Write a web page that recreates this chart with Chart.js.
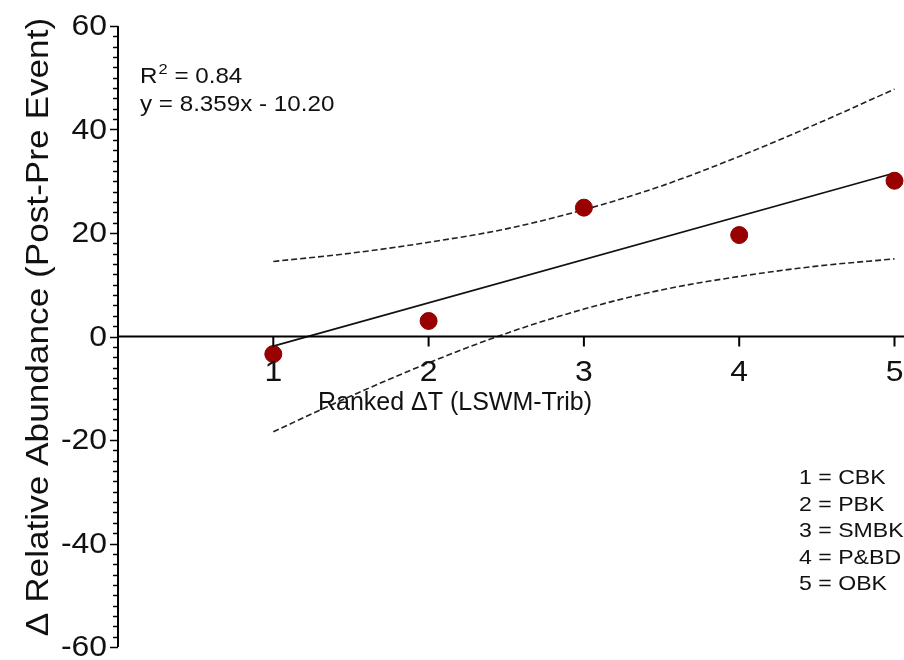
<!DOCTYPE html>
<html>
<head>
<meta charset="utf-8">
<script src="https://cdn.jsdelivr.net/npm/chart.js@4.4.1/dist/chart.umd.min.js"></script>
<style>
  html, body { margin: 0; padding: 0; background: #fff; }
  #wrap { width: 904px; height: 660px; position: relative; }
</style>
</head>
<body>
<div id="wrap"><canvas id="abundanceChart"></canvas></div>
<script>
// Ranked temperature difference vs. change in relative abundance
const ranks = [1, 2, 3, 4, 5];
const deltaAbundance = [-3.4, 3.0, 24.9, 19.6, 30.1];

// Linear fit (as reported)
const fitSlope = 8.359;
const fitIntercept = -10.20;
const fitR2 = '0.84';

// 95% confidence band of the fit
const bandX = [1, 1.5, 2, 2.5, 3, 3.5, 4, 4.5, 5];
const bandUpper = [14.5, 16.1, 18.2, 20.8, 24.5, 29.1, 34.8, 41.1, 47.8];
const bandLower = [-18.4, -11.5, -5.1, 0.6, 5.3, 9.0, 11.6, 13.6, 15.0];

// Axis ticks and labels
const xTicks = [1, 2, 3, 4, 5];
const yTicks = [-60, -40, -20, 0, 20, 40, 60];
const yMinorStep = 2;
const xTitle = 'Ranked \u0394T (LSWM-Trib)';
const yTitle = '\u0394 Relative Abundance (Post-Pre Event)';
const siteKey = ['1 = CBK', '2 = PBK', '3 = SMBK', '4 = P&BD', '5 = OBK'];

const FONT = '"Liberation Sans", Arial, Helvetica, sans-serif';
const WIDE = 1.1; // text is drawn a little wider than the stock face

function toXY(xs, ys) {
  return xs.map((x, i) => ({ x: x, y: ys[i] }));
}

// draw text stretched along its reading direction
function wideText(ctx, text, x, y, stretch) {
  ctx.save();
  ctx.translate(x, y);
  ctx.scale(stretch, 1);
  ctx.fillText(text, 0, 0);
  ctx.restore();
  return ctx.measureText(text).width * stretch;
}

const fitLine = [
  { x: ranks[0], y: fitSlope * ranks[0] + fitIntercept },
  { x: ranks[ranks.length - 1], y: fitSlope * ranks[ranks.length - 1] + fitIntercept }
];

// Prism-style axes, labels and text notes
const axesPlugin = {
  id: 'prismAxes',
  afterDraw(chart) {
    const { ctx, scales } = chart;
    const xs = scales.x, ys = scales.y;
    const x0 = xs.getPixelForValue(0);
    const y0 = ys.getPixelForValue(0);
    ctx.save();
    ctx.strokeStyle = '#000';
    ctx.fillStyle = '#111';

    // y axis line
    ctx.lineWidth = 2;
    ctx.beginPath();
    ctx.moveTo(x0, ys.getPixelForValue(60));
    ctx.lineTo(x0, ys.getPixelForValue(-60));
    ctx.stroke();

    // y ticks: minor every 2, major every 20
    ctx.lineWidth = 1.5;
    for (let v = -60; v <= 60; v += yMinorStep) {
      const py = Math.round(ys.getPixelForValue(v)) + 0.5;
      const len = (v % 20 === 0) ? 8 : 5;
      ctx.beginPath();
      ctx.moveTo(x0 - len, py);
      ctx.lineTo(x0, py);
      ctx.stroke();
    }
    ctx.font = '29px ' + FONT;
    ctx.textAlign = 'right';
    ctx.textBaseline = 'middle';
    yTicks.forEach(v => {
      wideText(ctx, String(v), x0 - 11, ys.getPixelForValue(v) + 1, WIDE);
    });

    // x axis along y = 0
    ctx.lineWidth = 2;
    ctx.beginPath();
    ctx.moveTo(x0, y0);
    ctx.lineTo(chart.width, y0);
    ctx.stroke();
    ctx.font = '29px ' + FONT;
    ctx.textAlign = 'center';
    ctx.textBaseline = 'alphabetic';
    xTicks.forEach(v => {
      const px = xs.getPixelForValue(v);
      ctx.beginPath();
      ctx.moveTo(px, y0);
      ctx.lineTo(px, y0 + 10);
      ctx.stroke();
      wideText(ctx, String(v), px, y0 + 44, WIDE);
    });

    // axis titles
    ctx.font = '25px ' + FONT;
    wideText(ctx, xTitle, 455, 410, 1);
    ctx.save();
    ctx.translate(48, 327);
    ctx.rotate(-Math.PI / 2);
    ctx.font = '32px ' + FONT;
    ctx.textAlign = 'center';
    wideText(ctx, yTitle, 0, 0, WIDE);
    ctx.restore();

    // fit statistics
    ctx.textAlign = 'left';
    ctx.font = '22px ' + FONT;
    let cx = 140;
    cx += wideText(ctx, 'R', cx, 83, WIDE) + 1;
    ctx.font = '15px ' + FONT;
    cx += wideText(ctx, '2', cx, 74, WIDE);
    ctx.font = '22px ' + FONT;
    wideText(ctx, ' = ' + fitR2, cx, 83, WIDE);
    wideText(ctx, 'y = ' + fitSlope.toFixed(3) + 'x - ' + Math.abs(fitIntercept).toFixed(2), 140, 111, WIDE);

    // site key
    ctx.font = '21px ' + FONT;
    siteKey.forEach((s, i) => {
      wideText(ctx, s, 799, 484 + i * 26.5, WIDE);
    });
    ctx.restore();
  }
};

const ctx = document.getElementById('abundanceChart').getContext('2d');
window.abundanceChart = new Chart(ctx, {
  type: 'scatter',
  data: {
    datasets: [
      {
        label: 'Upper 95% CI',
        data: toXY(bandX, bandUpper),
        showLine: true,
        borderColor: '#222',
        borderWidth: 1.6,
        borderDash: [6, 3],
        pointRadius: 0,
        cubicInterpolationMode: 'monotone',
        order: 3
      },
      {
        label: 'Lower 95% CI',
        data: toXY(bandX, bandLower),
        showLine: true,
        borderColor: '#222',
        borderWidth: 1.6,
        borderDash: [6, 3],
        pointRadius: 0,
        cubicInterpolationMode: 'monotone',
        order: 3
      },
      {
        label: 'Linear fit',
        data: fitLine,
        showLine: true,
        borderColor: '#111',
        borderWidth: 1.8,
        pointRadius: 0,
        order: 2
      },
      {
        label: 'Sites',
        data: toXY(ranks, deltaAbundance),
        backgroundColor: '#990000',
        borderColor: '#8a0000',
        borderWidth: 1,
        pointRadius: 8.5,
        order: 1
      }
    ]
  },
  options: {
    responsive: true,
    maintainAspectRatio: false,
    animation: false,
    clip: false,
    layout: {
      padding: { left: 118, right: 5, top: 26, bottom: 13 }
    },
    plugins: {
      legend: { display: false },
      tooltip: { enabled: false }
    },
    scales: {
      x: { type: 'linear', min: 0, max: 5, display: false },
      y: { type: 'linear', min: -60, max: 60, display: false }
    }
  },
  plugins: [axesPlugin]
});
</script>
</body>
</html>
